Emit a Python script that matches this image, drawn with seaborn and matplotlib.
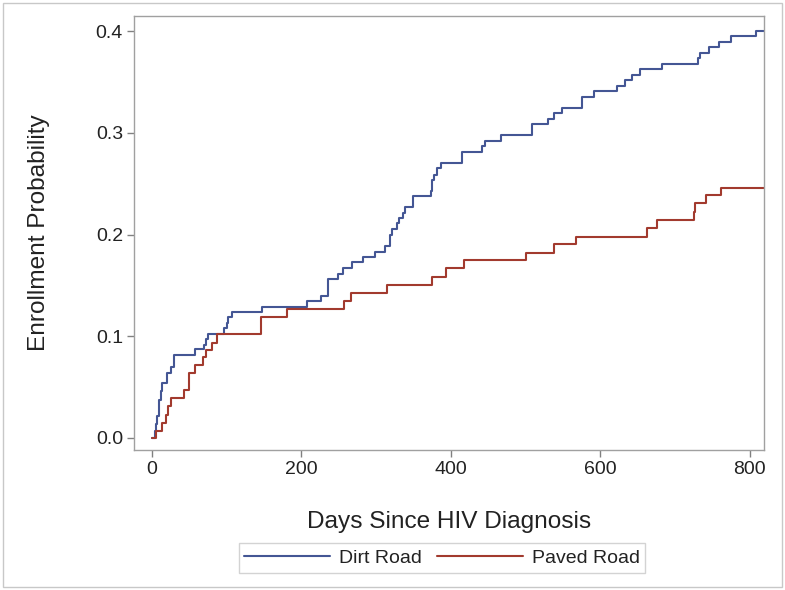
import numpy as np
import pandas as pd
import matplotlib
matplotlib.use("Agg")
import matplotlib.pyplot as plt
import seaborn as sns
from matplotlib.patches import Rectangle

# Dirt Road (step times, cumulative enrollment probability)
dirt_days = [0, 2.7, 3.5, 5, 7, 9, 10, 12, 13, 20, 25, 30, 57, 69, 72, 74.5, 97, 100, 102, 107.6,
             147, 208, 225.6, 235.5, 249, 255.5, 268, 283, 298, 311.7, 318.4, 321, 328, 331, 336,
             339, 349.6, 373, 375, 377, 381.7, 386.6, 415, 442, 446, 467, 508, 530, 538, 549,
             576, 591, 622, 633, 643, 653, 683, 731, 733, 746, 759, 775, 808, 819]
dirt_prob = [0, 0.0, 0.007, 0.014, 0.021, 0.029, 0.037, 0.046, 0.054, 0.064, 0.070, 0.081, 0.087,
             0.091, 0.097, 0.102, 0.108, 0.113, 0.119, 0.124, 0.129, 0.135, 0.140, 0.156, 0.161,
             0.167, 0.173, 0.178, 0.183, 0.189, 0.1995, 0.205, 0.211, 0.216, 0.2215, 0.227, 0.238,
             0.243, 0.2535, 0.2585, 0.265, 0.2706, 0.2814, 0.287, 0.292, 0.298, 0.3086, 0.3138,
             0.3194, 0.3246, 0.3354, 0.341, 0.3462, 0.3518, 0.3574, 0.3627, 0.368, 0.3738,
             0.3787, 0.3846, 0.3898, 0.3954, 0.4003, 0.4003]

# Paved Road
paved_days = [0, 5, 13.8, 18.3, 21.8, 25.4, 43.2, 49.5, 57.5, 68.7, 73, 79.8, 86.5, 146.5, 181,
              257, 267, 315, 375, 393, 417, 501, 538, 568, 663, 676, 725, 727, 742, 762, 819]
paved_prob = [0, 0.0065, 0.0144, 0.0226, 0.031, 0.039, 0.047, 0.0636, 0.0717, 0.0793, 0.0865,
              0.0937, 0.1022, 0.119, 0.1265, 0.135, 0.142, 0.1507, 0.1586, 0.1668, 0.175, 0.182,
              0.1907, 0.198, 0.206, 0.2142, 0.2224, 0.2306, 0.2385, 0.246, 0.246]

groups = ["Dirt Road", "Paved Road"]
colors = ["#445694", "#A23A2E"]

df = pd.concat([
    pd.DataFrame({"day": dirt_days, "prob": dirt_prob, "group": groups[0]}),
    pd.DataFrame({"day": paved_days, "prob": paved_prob, "group": groups[1]}),
], ignore_index=True)

sns.set_theme(style="white")
plt.rcParams["font.family"] = ["Liberation Sans", "DejaVu Sans"]

fig = plt.figure(figsize=(7.85, 5.9), dpi=100)
ax = fig.add_axes([134/785, 1-450/590, (764-134)/785, (450-16)/590])

sns.lineplot(data=df, x="day", y="prob", hue="group", hue_order=groups,
             palette=dict(zip(groups, colors)), drawstyle="steps-post",
             estimator=None, linewidth=1.5, ax=ax, legend=False)

ax.set_xlim(-24, 819)
ax.set_ylim(-0.012, 0.415)
ax.set_xticks([0, 200, 400, 600, 800])
ax.set_yticks([0.0, 0.1, 0.2, 0.3, 0.4])
ax.set_yticklabels(["0.0", "0.1", "0.2", "0.3", "0.4"])
ax.tick_params(axis="both", which="both", direction="out", length=5, width=1,
               color="#808080", labelsize=14, labelcolor="#222222", pad=3,
               bottom=True, left=True)
for s in ax.spines.values():
    s.set_color("#a0a0a0")
    s.set_linewidth(1)
ax.set_xlabel("Days Since HIV Diagnosis", fontsize=17.6, color="#222222", labelpad=24)
ax.set_ylabel("Enrollment Probability", fontsize=17.6, color="#222222", labelpad=33)

handles = [plt.Line2D([], [], color=c, lw=1.5) for c in colors]
leg = fig.legend(handles, groups, loc="center", bbox_to_anchor=(442/785, 1-558/590),
                 ncol=2, frameon=True, fancybox=False, edgecolor="#c8c8c8",
                 fontsize=14, handlelength=4.4, handletextpad=0.45, columnspacing=0.8,
                 borderpad=0.3, borderaxespad=0)
leg.get_frame().set_linewidth(1)
for t in leg.get_texts():
    t.set_color("#222222")

fig.patches.append(Rectangle((3/785, 3/590), 779/785, 584/590, transform=fig.transFigure,
                             fill=False, edgecolor="#c8c8c8", linewidth=1))

fig.savefig("out.png", dpi=100)
